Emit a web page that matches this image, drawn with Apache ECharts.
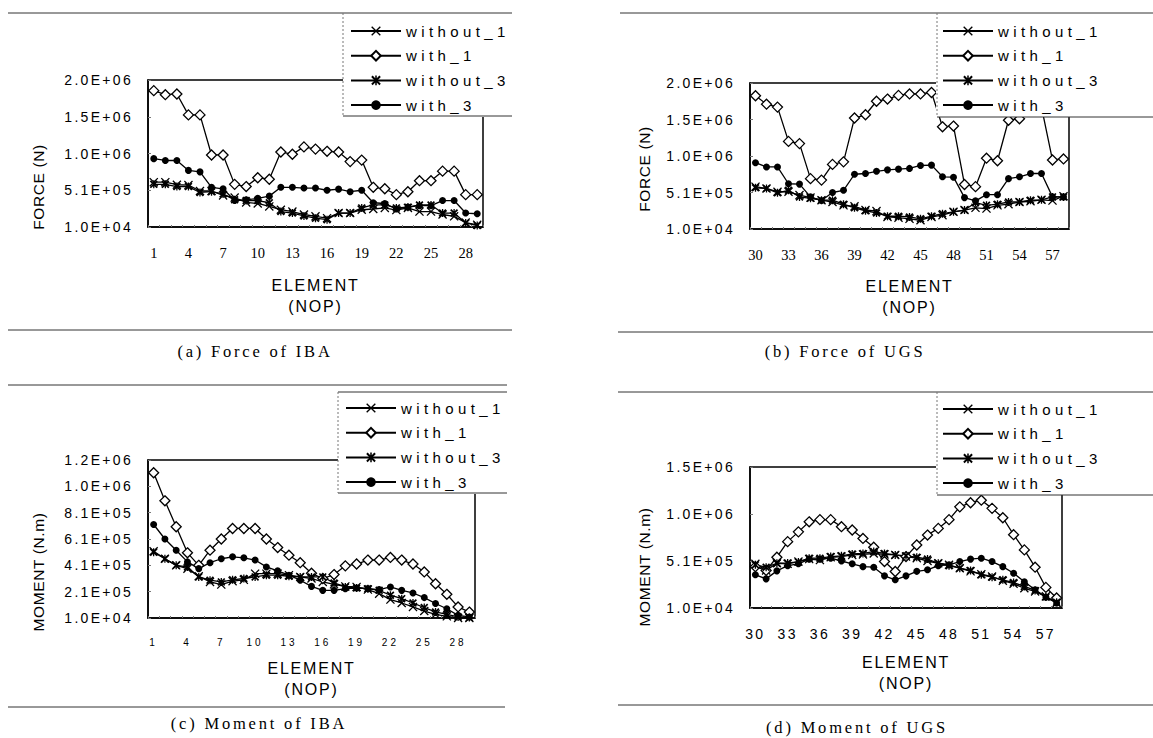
<!DOCTYPE html>
<html>
<head>
<meta charset="utf-8">
<title>Force and moment of IBA / UGS</title>
<script src="https://cdn.jsdelivr.net/npm/echarts@6/dist/echarts.min.js"></script>
<style>
  html, body { margin: 0; padding: 0; background: #fff; }
  #chart { width: 1153px; height: 738px; }
  /* the scanned figure is set with wide letter spacing; sizes below are unique per text role */
  #chart text[style*="15px"] { letter-spacing: 4.4px; }
  #chart text[style*="14px"] { letter-spacing: 2.3px; }
  #chart text[style*="16px"] { letter-spacing: 1.8px; }
  #chart text[style*="16.5px"] { letter-spacing: 2.8px; }
  #chart text[style*="10px"] { letter-spacing: 3px; }
  #chart text[style*="15.5px"] { letter-spacing: 0.6px; }
</style>
</head>
<body>
<div id="chart"></div>
<script>
// element numbers (NOP)
const elemIBA = ['1','2','3','4','5','6','7','8','9','10','11','12','13','14','15','16','17','18','19','20','21','22','23','24','25','26','27','28','29'];
const elemUGS = ['30','31','32','33','34','35','36','37','38','39','40','41','42','43','44','45','46','47','48','49','50','51','52','53','54','55','56','57','58'];

const seriesNames = ['without_1', 'with_1', 'without_3', 'with_3'];

// (a) Force of IBA, N
const forceIBA_without1 = [6.2e5,6.2e5,5.85e5,5.8e5,5.0e5,5.0e5,4.4e5,4.1e5,3.45e5,3.3e5,2.9e5,2.45e5,2.2e5,1.8e5,1.55e5,1.3e5,2.0e5,2.0e5,2.45e5,2.55e5,2.7e5,2.4e5,2.7e5,2.2e5,2.2e5,1.8e5,1.55e5,7.0e4,4.0e4];
const forceIBA_with1 = [1.865e6,1.81e6,1.82e6,1.535e6,1.535e6,9.9e5,9.9e5,5.9e5,5.6e5,6.8e5,6.6e5,1.03e6,1.0e6,1.1e6,1.07e6,1.04e6,1.03e6,9.0e5,9.2e5,5.5e5,5.3e5,4.5e5,4.9e5,6.4e5,6.4e5,7.7e5,7.7e5,4.5e5,4.5e5];
const forceIBA_without3 = [5.9e5,5.9e5,5.6e5,5.6e5,4.8e5,4.9e5,4.6e5,3.8e5,3.7e5,3.7e5,3.4e5,2.2e5,2.0e5,1.6e5,1.3e5,1.1e5,2.0e5,2.0e5,2.7e5,3.1e5,3.1e5,2.7e5,2.8e5,3.1e5,3.1e5,2.0e5,2.0e5,6.5e4,3.0e4];
const forceIBA_with3 = [9.4e5,9.15e5,9.15e5,7.8e5,7.6e5,5.5e5,5.3e5,3.7e5,3.8e5,4.0e5,4.3e5,5.5e5,5.5e5,5.4e5,5.4e5,5.1e5,5.25e5,4.9e5,5.1e5,3.4e5,3.3e5,2.55e5,2.8e5,3.0e5,3.0e5,3.7e5,3.7e5,2.0e5,1.9e5];

// (b) Force of UGS, N
const forceUGS_without1 = [5.9e5,5.65e5,5.2e5,5.2e5,4.75e5,4.4e5,4.05e5,3.8e5,3.35e5,3.2e5,2.7e5,2.55e5,1.75e5,1.65e5,1.5e5,1.3e5,1.75e5,2.0e5,2.45e5,2.7e5,3.0e5,2.9e5,3.35e5,3.5e5,3.8e5,3.9e5,4.1e5,4.0e5,4.6e5];
const forceUGS_with1 = [1.835e6,1.72e6,1.68e6,1.21e6,1.18e6,7.0e5,6.8e5,8.95e5,9.3e5,1.53e6,1.575e6,1.76e6,1.79e6,1.84e6,1.86e6,1.86e6,1.88e6,1.41e6,1.42e6,6.2e5,5.9e5,9.8e5,9.45e5,1.5e6,1.52e6,1.72e6,1.68e6,9.55e5,9.7e5];
const forceUGS_without3 = [5.75e5,5.65e5,5.05e5,5.4e5,4.5e5,4.3e5,4.05e5,4.05e5,3.5e5,3.0e5,2.6e5,2.3e5,1.85e5,1.85e5,1.75e5,1.5e5,1.85e5,2.2e5,2.45e5,2.7e5,3.7e5,3.35e5,3.5e5,3.8e5,3.8e5,4.05e5,4.1e5,4.5e5,4.5e5];
const forceUGS_with3 = [9.18e5,8.6e5,8.6e5,6.3e5,6.25e5,4.5e5,4.0e5,5.1e5,5.4e5,7.6e5,7.7e5,8.0e5,8.2e5,8.3e5,8.4e5,8.8e5,8.85e5,7.25e5,7.2e5,4.4e5,3.95e5,4.8e5,4.8e5,7.0e5,7.25e5,7.7e5,7.7e5,4.5e5,4.5e5];

// (c) Moment of IBA, N.m
const momentIBA_without1 = [5.17e5,4.6e5,4.1e5,3.85e5,3.27e5,2.84e5,2.64e5,2.9e5,3.0e5,3.47e5,3.47e5,3.47e5,3.35e5,3.22e5,3.1e5,2.84e5,2.66e5,2.5e5,2.46e5,2.26e5,1.95e5,1.5e5,1.24e5,9.4e4,6.3e4,3.8e4,2.3e4,1.0e4,1.0e4];
const momentIBA_with1 = [1.113e6,9.0e5,7.03e5,5.05e5,4.1e5,5.25e5,6.1e5,6.9e5,6.9e5,6.9e5,6.1e5,5.45e5,4.87e5,4.3e5,3.5e5,3.1e5,3.4e5,4.06e5,4.2e5,4.5e5,4.5e5,4.7e5,4.5e5,4.2e5,3.6e5,2.7e5,1.9e5,9.4e4,5.5e4];
const momentIBA_without3 = [5.1e5,4.6e5,4.1e5,3.98e5,3.22e5,2.97e5,2.84e5,3.0e5,3.1e5,3.22e5,3.35e5,3.35e5,3.27e5,3.22e5,3.22e5,3.22e5,2.76e5,2.46e5,2.38e5,2.33e5,2.2e5,1.83e5,1.57e5,1.24e5,8.9e4,5.6e4,3.8e4,1.8e4,1.3e4];
const momentIBA_with3 = [7.2e5,6.1e5,5.25e5,4.36e5,3.85e5,4.3e5,4.6e5,4.75e5,4.67e5,4.5e5,3.98e5,3.68e5,3.35e5,2.97e5,2.5e5,2.2e5,2.2e5,2.33e5,2.38e5,2.33e5,2.26e5,2.46e5,2.2e5,2.0e5,1.65e5,1.2e5,8.0e4,3.0e4,1.8e4];

// (d) Moment of UGS, N.m
const momentUGS_without1 = [4.8e5,4.1e5,4.86e5,4.8e5,5.04e5,5.3e5,5.2e5,5.5e5,5.57e5,5.75e5,5.8e5,5.9e5,5.8e5,5.75e5,5.57e5,5.4e5,5.1e5,4.86e5,4.7e5,4.34e5,4.0e5,3.7e5,3.45e5,3.0e5,2.68e5,2.2e5,1.86e5,1.34e5,6.3e4];
const momentUGS_with1 = [4.5e5,4.1e5,5.5e5,7.16e5,8.2e5,9.27e5,9.5e5,9.5e5,8.75e5,8.4e5,7.5e5,6.56e5,5.04e5,3.98e5,5.57e5,6.8e5,7.86e5,8.57e5,9.5e5,1.086e6,1.13e6,1.157e6,1.07e6,9.7e5,7.9e5,6.28e5,4.44e5,2.29e5,1.16e5];
const momentUGS_without3 = [4.7e5,4.44e5,4.86e5,4.9e5,5.0e5,5.4e5,5.4e5,5.57e5,5.65e5,5.85e5,5.9e5,6.1e5,5.9e5,5.75e5,5.65e5,5.5e5,5.3e5,4.86e5,4.6e5,4.34e5,4.1e5,3.63e5,3.38e5,3.1e5,2.8e5,2.4e5,1.97e5,1.26e5,7.0e4];
const momentUGS_with3 = [3.63e5,3.2e5,4.05e5,4.6e5,4.8e5,5.3e5,5.3e5,5.4e5,5.1e5,4.8e5,4.5e5,4.44e5,3.52e5,3.1e5,3.52e5,4.0e5,4.16e5,4.6e5,4.7e5,5.04e5,5.3e5,5.4e5,5.04e5,4.5e5,3.8e5,2.9e5,2.04e5,1.26e5,6.3e4];

const sans = '"Liberation Sans", Arial, sans-serif';
const serif = '"Liberation Serif", "Times New Roman", serif';

const markX = 'path://M0,1L1,0L5,4L9,0L10,1L6,5L10,9L9,10L5,6L1,10L0,9L4,5Z';
const markStar = 'path://M0,1.5L1.5,0L5,3.5L8.5,0L10,1.5L6.5,5L10,8.5L8.5,10L5,6.5L1.5,10L0,8.5L3.5,5Z M4.2,0L5.8,0L5.8,10L4.2,10Z';

const markerStyles = [
  { symbol: markX, symbolSize: 9, itemStyle: { color: '#000' } },
  { symbol: 'diamond', symbolSize: 10, itemStyle: { color: '#fff', borderColor: '#000', borderWidth: 1.3 } },
  { symbol: markStar, symbolSize: 8, itemStyle: { color: '#000' } },
  { symbol: 'circle', symbolSize: 7, itemStyle: { color: '#000' } }
];

// E-notation as printed on the axes: 5.1E+05
function fmtE(v) {
  const parts = v.toExponential(1).split('e');
  const e = +parts[1];
  const n = Math.abs(e);
  return parts[0] + 'E' + (e < 0 ? '-' : '+') + (n < 10 ? '0' + n : n);
}

const panels = [
  { grid: { left: 148, top: 80, width: 335, height: 147 }, cats: elemIBA,
    yMax: 2.01e6, yStep: 5e5, nameGap: 47.5,
    xLabel: { fontFamily: serif, fontSize: 14.5, margin: 18 },
    values: [forceIBA_without1, forceIBA_with1, forceIBA_without3, forceIBA_with3],
    legend: { left: 350, top: 23 } },
  { grid: { left: 750, top: 83, width: 319, height: 146 }, cats: elemUGS,
    yMax: 2.01e6, yStep: 5e5, nameGap: 46.5,
    xLabel: { fontFamily: serif, fontSize: 14.5, margin: 18 },
    values: [forceUGS_without1, forceUGS_with1, forceUGS_without3, forceUGS_with3],
    legend: { left: 942, top: 23 } },
  { grid: { left: 148, top: 460, width: 327, height: 158 }, cats: elemIBA,
    yMax: 1.21e6, yStep: 2e5, nameGap: 39.5,
    xLabel: { fontFamily: sans, fontSize: 10, margin: 19 },
    values: [momentIBA_without1, momentIBA_with1, momentIBA_without3, momentIBA_with3],
    legend: { left: 345, top: 400 } },
  { grid: { left: 750, top: 467, width: 312, height: 141 }, cats: elemUGS,
    yMax: 1.51e6, yStep: 5e5, nameGap: 43.5,
    xLabel: { fontFamily: sans, fontSize: 14, margin: 19 },
    values: [momentUGS_without1, momentUGS_with1, momentUGS_without3, momentUGS_with3],
    legend: { left: 942, top: 401 } }
];

const grid = [], xAxis = [], yAxis = [], series = [], legend = [];

panels.forEach(function (p, i) {
  grid.push(Object.assign({ show: true, borderColor: '#000', borderWidth: 1.5, backgroundColor: 'transparent' }, p.grid));
  xAxis.push({
    type: 'category', gridIndex: i, data: p.cats, boundaryGap: true,
    axisLine: { lineStyle: { color: '#000', width: 1.5 } },
    axisTick: { show: true, inside: true, length: 2, interval: 0, lineStyle: { color: '#777' } },
    axisLabel: { interval: 2, color: '#000', fontFamily: p.xLabel.fontFamily, fontSize: p.xLabel.fontSize, margin: p.xLabel.margin },
    name: 'ELEMENT\n(NOP)', nameLocation: 'middle', nameGap: p.nameGap,
    nameTextStyle: { fontFamily: sans, fontSize: 16, lineHeight: 21, color: '#000' }
  });
  yAxis.push({
    type: 'value', gridIndex: i, min: 1e4, max: p.yMax, interval: p.yStep,
    splitLine: { show: false },
    axisLine: { show: true, lineStyle: { color: '#000', width: 1.5 } },
    axisTick: { show: true, inside: true, length: 3, lineStyle: { color: '#777' } },
    axisLabel: { formatter: fmtE, color: '#000', fontFamily: sans, fontSize: 14, margin: 15 }
  });
  seriesNames.forEach(function (name, k) {
    series.push(Object.assign({
      type: 'line', name: name, xAxisIndex: i, yAxisIndex: i, data: p.values[k],
      z: 2, showAllSymbol: true, animation: false,
      lineStyle: { color: '#000', width: 1.3 }
    }, markerStyles[k]));
  });
  // white legend box sits over the plot, as in the original
  legend.push({
    data: seriesNames, orient: 'vertical', left: p.legend.left - 6, top: p.legend.top - 10,
    itemWidth: 50, itemHeight: 12, itemGap: 8.7, padding: [10, 14, 4, 6], selectedMode: false,
    backgroundColor: '#fff', z: 10,
    textStyle: { fontFamily: sans, fontSize: 15, lineHeight: 16, color: '#000' }
  });
});

function rule(x1, y1, x2, y2, dash) {
  return { type: 'line', z: 20, silent: true, shape: { x1: x1, y1: y1, x2: x2, y2: y2 },
    style: { stroke: dash ? '#777' : '#333', lineWidth: 1, lineDash: dash ? [2, 2] : null } };
}
function cover(x, y, w, h) {
  return { type: 'rect', z: 9, silent: true, shape: { x: x, y: y, width: w, height: h }, style: { fill: '#fff' } };
}
function label(text, x, y, font, size, rot) {
  return { type: 'text', z: 20, silent: true, x: x, y: y, rotation: rot || 0,
    style: { text: text, fill: '#000', font: size + 'px ' + font, align: 'center', verticalAlign: 'middle' } };
}

const graphic = [
  // legend boxes hide what runs under them
  cover(343, 13, 169, 103), cover(937, 13, 216, 104), cover(338, 392, 169, 101), cover(937, 392, 216, 103),
  // horizontal rules of the figure panels
  rule(8, 13, 512, 13), rule(8, 330, 512, 330),
  rule(620, 13, 1153, 13), rule(618, 332, 1153, 332),
  rule(8, 385, 507, 385), rule(8, 707, 505, 707),
  rule(618, 392, 1153, 392), rule(618, 705, 1153, 705),
  // legend frames
  rule(343, 116, 512, 116), rule(343, 13, 343, 116, true),
  rule(937, 117, 1153, 117), rule(937, 13, 937, 117, true),
  rule(338, 392, 507, 392), rule(338, 493, 507, 493), rule(338, 392, 338, 493, true),
  rule(937, 495, 1153, 495), rule(937, 392, 937, 495, true),
  // axis titles
  label('FORCE (N)', 38, 187, sans, 15.5, Math.PI / 2),
  label('FORCE (N)', 644, 169, sans, 15.5, Math.PI / 2),
  label('MOMENT (N.m)', 38, 572, sans, 15.5, Math.PI / 2),
  label('MOMENT (N.m)', 644, 567, sans, 15.5, Math.PI / 2),
  // captions
  label('(a) Force of IBA', 255, 351, serif, 16.5),
  label('(b) Force of UGS', 845, 351, serif, 16.5),
  label('(c) Moment of IBA', 259, 723, serif, 16.5),
  label('(d) Moment of UGS', 857, 727, serif, 16.5)
];

const chart = echarts.init(document.getElementById('chart'), null, { renderer: 'svg' });
chart.setOption({
  backgroundColor: '#fff',
  animation: false,
  grid: grid,
  xAxis: xAxis,
  yAxis: yAxis,
  legend: legend,
  series: series,
  graphic: { elements: graphic }
});
</script>
</body>
</html>
